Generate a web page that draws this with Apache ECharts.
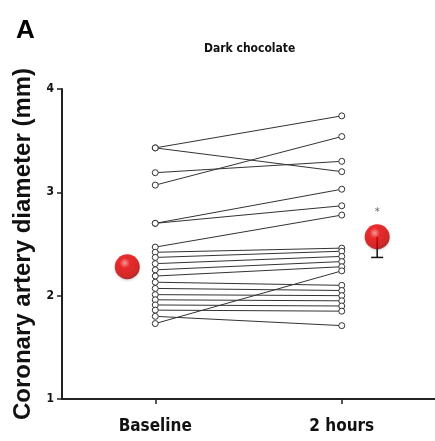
<!DOCTYPE html>
<html>
<head>
<meta charset="utf-8">
<script src="https://cdn.jsdelivr.net/npm/echarts@6/dist/echarts.min.js"></script>
<style>
html,body{margin:0;padding:0;background:#fff;}
#chart{width:435px;height:441px;}
</style>
</head>
<body>
<div id="chart"></div>
<script>
// Categories (x positions 0 and 1)
var categories = ['Baseline', '2 hours'];
// Individual subject values (mm)
var baseline = [3.43, 3.43, 3.19, 3.07, 2.70, 2.70, 2.47, 2.42, 2.37, 2.31, 2.25, 2.19, 2.13, 2.07, 2.01, 1.96, 1.91, 1.86, 1.80, 1.73];
var twoHours = [3.74, 3.20, 3.30, 3.54, 3.03, 2.87, 2.78, 2.46, 2.43, 2.38, 2.33, 2.28, 2.10, 2.05, 2.00, 1.95, 1.90, 1.85, 1.71, 2.24];
// Group means and error
var meanValues = [2.28, 2.57];
var meanOffsets = [-0.15, 0.19];
var errorLow = [null, 2.37];
var yTicks = [1, 2, 3, 4];

var font = "'DejaVu Sans Condensed', 'Liberation Sans Narrow', Arial, sans-serif";
var series = [];
for (var i = 0; i < baseline.length; i++) {
  series.push({
    type: 'line',
    data: [[0, baseline[i]], [1, twoHours[i]]],
    symbol: 'circle',
    symbolSize: 6,
    lineStyle: {color: '#333', width: 1},
    itemStyle: {color: '#fff', borderColor: '#333', borderWidth: 1},
    z: 2,
    silent: true,
    animation: false
  });
}
// error bar (lower only)
var errData = [];
for (var k = 0; k < meanValues.length; k++) {
  if (errorLow[k] != null) errData.push([k + meanOffsets[k], meanValues[k], errorLow[k]]);
}
series.push({
  type: 'custom',
  data: errData,
  z: 3,
  animation: false,
  renderItem: function (params, api) {
    var x = api.value(0);
    var top = api.coord([x, api.value(1)]);
    var bot = api.coord([x, api.value(2)]);
    return {
      type: 'group',
      children: [
        {type: 'line', shape: {x1: top[0], y1: top[1], x2: bot[0], y2: bot[1]}, style: {stroke: '#111', lineWidth: 1.5}},
        {type: 'line', shape: {x1: bot[0] - 6, y1: bot[1], x2: bot[0] + 6, y2: bot[1]}, style: {stroke: '#111', lineWidth: 1.5}}
      ]
    };
  }
});
var meanData = meanValues.map(function (v, k) { return [k + meanOffsets[k], v]; });
series.push({
  type: 'scatter',
  data: meanData,
  symbol: 'circle',
  symbolSize: 25,
  z: 5,
  animation: false,
  itemStyle: {
    color: {
      type: 'radial', x: 0.4, y: 0.35, r: 0.7,
      colorStops: [
        {offset: 0, color: '#ff8a8a'},
        {offset: 0.3, color: '#f00000'},
        {offset: 0.8, color: '#d00000'},
        {offset: 1, color: '#8a0000'}
      ]
    },
    shadowColor: 'rgba(0,0,0,0.25)', shadowBlur: 3, shadowOffsetY: 1
  }
});
// significance marker
series.push({
  type: 'scatter',
  data: [[1 + meanOffsets[1], 2.81]],
  symbolSize: 0,
  z: 6,
  animation: false,
  label: {show: true, formatter: '*', position: 'inside', color: '#333', fontSize: 11, fontFamily: font}
});

var chart = echarts.init(document.getElementById('chart'), null, {renderer: 'canvas'});
chart.setOption({
  animation: false,
  backgroundColor: '#fff',
  title: {
    text: 'Dark chocolate',
    left: 199, top: 38,
    textStyle: {fontFamily: font, fontSize: 12, fontWeight: 'bold', color: '#111'}
  },
  graphic: [{
    type: 'text', left: 16, top: 18,
    style: {text: 'A', font: 'bold 26px Liberation Sans, Arial, sans-serif', fill: '#000'}
  }],
  grid: {left: 62, top: 89, width: 374, height: 310, containLabel: false},
  xAxis: {
    type: 'value', min: -0.5, max: 1.5,
    splitLine: {show: false},
    axisLine: {onZero: false, lineStyle: {color: '#222', width: 2}},
    axisTick: {show: true, customValues: [0, 1], length: 5, lineStyle: {color: '#222', width: 1.5}},
    axisLabel: {
      customValues: [0, 1],
      formatter: function (v) { return categories[Math.round(v)]; },
      fontFamily: font, fontSize: 17, fontWeight: 'bold', color: '#111', margin: 19
    }
  },
  yAxis: {
    type: 'value', min: 1, max: 4, interval: 1,
    name: 'Coronary artery diameter (mm)',
    nameLocation: 'middle', nameGap: 26,
    nameTextStyle: {fontFamily: 'Liberation Sans, Arial, sans-serif', fontSize: 24, fontWeight: 'bold', color: '#111'},
    splitLine: {show: false},
    axisLine: {show: true, onZero: false, lineStyle: {color: '#222', width: 2}},
    axisTick: {show: true, length: 5, lineStyle: {color: '#222', width: 1.5}},
    axisLabel: {
      customValues: yTicks,
      fontFamily: font, fontSize: 12, fontWeight: 'bold', color: '#111', margin: 8
    }
  },
  series: series
});
</script>
</body>
</html>
